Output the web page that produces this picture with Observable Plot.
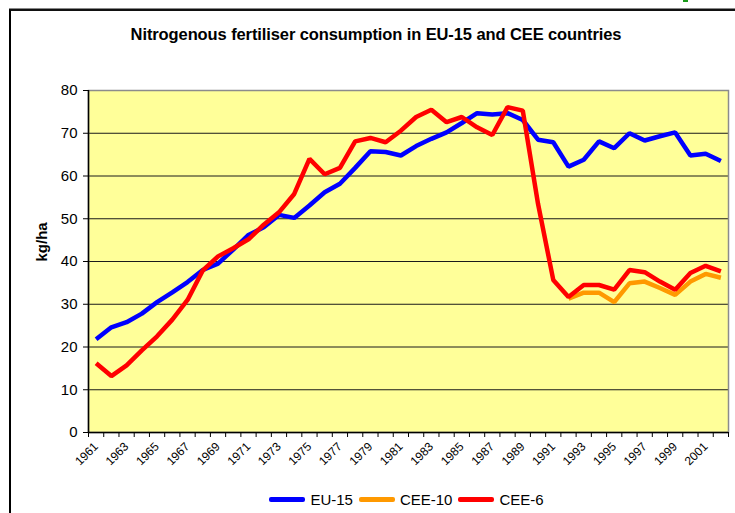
<!DOCTYPE html>
<html>
<head>
<meta charset="utf-8">
<script src="https://cdn.jsdelivr.net/npm/d3@7"></script>
<script src="https://cdn.jsdelivr.net/npm/@observablehq/plot@0.6"></script>
<style>
  html, body { margin: 0; padding: 0; background: #fff; }
  #wrap { position: relative; width: 735px; height: 513px; overflow: hidden; font-family: "Liberation Sans", Arial, sans-serif; }
  #frame { position: absolute; left: 9px; top: 9px; width: 800px; height: 600px; border-left: 2px solid #000; border-top: 2px solid #111; box-shadow: 0 -1px 0 #888; }
  #chart { position: absolute; left: 0; top: 0; }
  #title { position: absolute; left: 0; width: 752px; top: 25px; text-align: center; font-weight: bold; font-size: 16.5px; letter-spacing: -0.1px; color: #000; }
  #legend { position: absolute; left: 0; width: 813px; top: 491px; display: flex; justify-content: center; align-items: center; font-size: 15px; color: #000; }
  .item { display: flex; align-items: center; margin: 0 3px; }
  .sw { width: 36px; height: 4.5px; border-radius: 2px; margin-right: 5px; }
  #green { position: absolute; left: 683px; top: 0; width: 5px; height: 2px; background: #1a9a1a; }
</style>
</head>
<body>
<div id="wrap">
  <div id="green"></div>
  <div id="frame"></div>
  <div id="chart"></div>
  <div id="title">Nitrogenous fertiliser consumption in EU-15 and CEE countries</div>
  <div id="legend"></div>
</div>
<script>
const years = [1961,1962,1963,1964,1965,1966,1967,1968,1969,1970,1971,1972,1973,1974,1975,1976,1977,1978,1979,1980,1981,1982,1983,1984,1985,1986,1987,1988,1989,1990,1991,1992,1993,1994,1995,1996,1997,1998,1999,2000,2001,2002];
const eu15 = [21.8,24.6,25.8,27.8,30.5,32.8,35.2,38.0,39.5,42.8,46.2,48.0,50.9,50.2,53.1,56.2,58.2,61.9,65.8,65.6,64.8,67.0,68.7,70.2,72.4,74.7,74.4,74.7,73.1,68.5,67.9,62.2,63.8,68.1,66.5,70.0,68.3,69.3,70.2,64.8,65.2,63.5];
const cee10 = [null,null,null,null,null,null,null,null,null,null,null,null,null,null,null,null,null,null,null,null,null,null,null,null,null,null,null,null,null,null,null,31.3,32.7,32.7,30.5,34.9,35.3,33.8,32.2,35.3,37.1,36.2];
const cee6 = [16.2,13.2,15.7,19.2,22.5,26.4,31.0,37.9,41.2,43.1,45.2,48.6,51.5,55.8,64.0,60.4,61.9,68.1,68.9,67.9,70.6,73.8,75.5,72.6,73.8,71.4,69.6,76.1,75.3,53.5,35.7,31.7,34.5,34.5,33.4,38.0,37.5,35.3,33.4,37.3,39.0,37.7];
const seriesNames = ["EU-15","CEE-10","CEE-6"];
const seriesColors = ["#0000FF","#FF9900","#FF0000"];
const yTicks = [0,10,20,30,40,50,60,70,80];
const xLabelYears = [1961,1963,1965,1967,1969,1971,1973,1975,1977,1979,1981,1983,1985,1987,1989,1991,1993,1995,1997,1999,2001];

const seriesValues = [eu15, cee10, cee6];
const rows = [];
seriesNames.forEach((name, si) => {
  years.forEach((yr, i) => {
    rows.push({series: name, year: yr, value: seriesValues[si][i]});
  });
});
const bounds = d3.range(years[0] - 0.5, years[years.length - 1] + 1, 1);

const chart = Plot.plot({
  width: 735,
  height: 513,
  marginLeft: 88,
  marginRight: 7,
  marginTop: 90,
  marginBottom: 81,
  style: {fontFamily: "'Liberation Sans', Arial, sans-serif", background: "transparent", overflow: "visible"},
  x: {type: "linear", domain: [years[0] - 0.5, years[years.length - 1] + 0.5]},
  y: {domain: [0, 80]},
  color: {domain: seriesNames, range: seriesColors},
  marks: [
    Plot.frame({fill: "#FFFF99", stroke: null}),
    Plot.gridY(yTicks.slice(1), {stroke: "#1a1a1a", strokeOpacity: 1, strokeWidth: 1}),
    Plot.frame({stroke: "#8c8c8c", strokeWidth: 1.5}),
    Plot.ruleY([0], {stroke: "#000", strokeWidth: 1.5}),
    Plot.ruleX([years[0] - 0.5], {stroke: "#000", strokeWidth: 1.5}),
    Plot.axisY(yTicks, {tickSize: 5, tickPadding: 6, fontSize: 15, tickFormat: d => String(d), stroke: "#000", color: "#000", label: null}),
    Plot.axisX(bounds, {tickSize: 5, tickFormat: () => "", stroke: "#000", label: null}),
    Plot.text(xLabelYears, {x: d => d, y: 0, text: d => String(d), rotate: -45, textAnchor: "end", dy: 12, dx: 0, fontSize: 12, fill: "#000"}),
    Plot.line(rows.filter(d => d.value != null), {x: "year", y: "value", z: "series", stroke: "series", strokeWidth: 4.5, strokeLinejoin: "miter", strokeLinecap: "butt"}),
    Plot.text(["kg/ha"], {frameAnchor: "left", dx: -46, rotate: -90, text: d => d, fontSize: 15, fontWeight: "bold", fill: "#000"})
  ]
});
document.getElementById("chart").appendChild(chart);

const legend = document.getElementById("legend");
seriesNames.forEach((name, i) => {
  const item = document.createElement("div");
  item.className = "item";
  const sw = document.createElement("div");
  sw.className = "sw";
  sw.style.background = seriesColors[i];
  const lab = document.createElement("span");
  lab.textContent = name;
  item.appendChild(sw);
  item.appendChild(lab);
  legend.appendChild(item);
});
</script>
</body>
</html>
